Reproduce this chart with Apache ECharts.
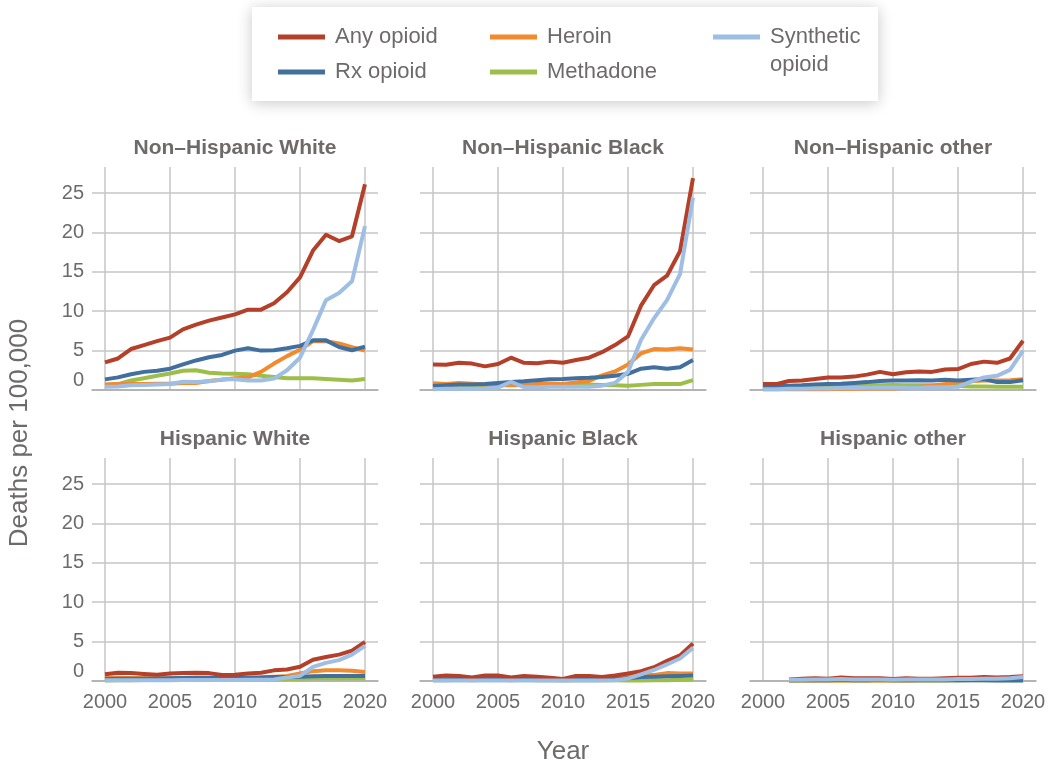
<!DOCTYPE html>
<html>
<head>
<meta charset="utf-8">
<script src="https://cdn.jsdelivr.net/npm/echarts@6/dist/echarts.min.js"></script>
<style>
  html, body { margin: 0; padding: 0; background: #ffffff; }
  #chart { width: 1053px; height: 768px; }
</style>
</head>
<body>
<div id="chart"></div>
<script>
// Years on the x axis
const years = [2000, 2001, 2002, 2003, 2004, 2005, 2006, 2007, 2008, 2009, 2010,
               2011, 2012, 2013, 2014, 2015, 2016, 2017, 2018, 2019, 2020];
const xTickValues = [2000, 2005, 2010, 2015, 2020];
const yTickValues = [0, 5, 10, 15, 20, 25];

const panelTitles = ['Non\u2013Hispanic White', 'Non\u2013Hispanic Black', 'Non\u2013Hispanic other',
                     'Hispanic White', 'Hispanic Black', 'Hispanic other'];
const seriesNames = ['Any opioid', 'Rx opioid', 'Heroin', 'Methadone', 'Synthetic opioid'];

// Deaths per 100,000 — Non-Hispanic White
const nhwAny       = [3.5, 4.0, 5.2, 5.7, 6.2, 6.65, 7.7, 8.3, 8.8, 9.2, 9.6, 10.2, 10.2, 11.0, 12.4, 14.3, 17.7, 19.7, 18.9, 19.5, 26.1];
const nhwRx        = [1.35, 1.6, 2.0, 2.3, 2.45, 2.7, 3.25, 3.75, 4.15, 4.45, 5.0, 5.3, 5.0, 5.05, 5.3, 5.6, 6.3, 6.3, 5.45, 5.05, 5.5];
const nhwHeroin    = [0.7, 0.75, 0.75, 0.75, 0.8, 0.8, 0.9, 0.9, 1.15, 1.3, 1.5, 1.6, 2.3, 3.35, 4.3, 5.1, 6.2, 6.2, 5.9, 5.45, 5.0];
const nhwMethadone = [0.65, 0.75, 1.2, 1.5, 1.8, 2.1, 2.45, 2.5, 2.2, 2.1, 2.05, 2.0, 1.8, 1.65, 1.5, 1.5, 1.5, 1.4, 1.3, 1.2, 1.4];
const nhwSynthetic = [0.4, 0.45, 0.6, 0.65, 0.7, 0.75, 1.05, 1.0, 1.1, 1.35, 1.35, 1.2, 1.2, 1.45, 2.5, 4.1, 7.6, 11.4, 12.3, 13.8, 20.8];

// Non-Hispanic Black
const nhbAny       = [3.25, 3.2, 3.45, 3.35, 3.0, 3.3, 4.1, 3.45, 3.4, 3.6, 3.45, 3.8, 4.1, 4.8, 5.7, 6.8, 10.7, 13.3, 14.5, 17.6, 26.9];
const nhbRx        = [0.5, 0.6, 0.7, 0.7, 0.75, 0.9, 1.0, 1.1, 1.25, 1.35, 1.4, 1.5, 1.55, 1.65, 1.8, 2.05, 2.7, 2.9, 2.7, 2.9, 3.8];
const nhbHeroin    = [0.85, 0.75, 0.9, 0.8, 0.7, 0.7, 0.65, 0.65, 0.75, 0.8, 0.75, 0.95, 1.15, 1.85, 2.35, 3.25, 4.65, 5.2, 5.15, 5.3, 5.15];
const nhbMethadone = [0.4, 0.45, 0.5, 0.5, 0.55, 0.6, 0.6, 0.65, 0.65, 0.7, 0.7, 0.7, 0.7, 0.65, 0.6, 0.55, 0.65, 0.75, 0.75, 0.75, 1.25];
const nhbSynthetic = [0.1, 0.15, 0.15, 0.15, 0.2, 0.3, 1.05, 0.35, 0.35, 0.4, 0.4, 0.4, 0.4, 0.55, 0.9, 2.3, 6.35, 9.1, 11.4, 14.7, 24.4];

// Non-Hispanic other
const nhoAny       = [0.75, 0.75, 1.15, 1.2, 1.4, 1.6, 1.6, 1.7, 1.95, 2.3, 2.0, 2.25, 2.35, 2.3, 2.6, 2.65, 3.3, 3.6, 3.45, 4.0, 6.25];
const nhoRx        = [0.45, 0.5, 0.55, 0.6, 0.7, 0.75, 0.8, 0.9, 1.0, 1.15, 1.2, 1.2, 1.25, 1.2, 1.3, 1.2, 1.3, 1.4, 1.0, 1.0, 1.25];
const nhoHeroin    = [0.1, 0.1, 0.1, 0.1, 0.1, 0.1, 0.15, 0.15, 0.2, 0.2, 0.2, 0.3, 0.4, 0.55, 0.75, 1.0, 1.1, 1.2, 1.2, 1.25, 1.35];
const nhoMethadone = [0.2, 0.25, 0.3, 0.35, 0.4, 0.45, 0.5, 0.55, 0.6, 0.6, 0.65, 0.6, 0.6, 0.6, 0.55, 0.5, 0.45, 0.45, 0.4, 0.4, 0.4];
const nhoSynthetic = [0.1, 0.1, 0.15, 0.15, 0.2, 0.2, 0.25, 0.25, 0.3, 0.3, 0.3, 0.3, 0.3, 0.35, 0.35, 0.4, 1.05, 1.6, 1.8, 2.55, 5.0];

// Hispanic White
const hwAny       = [0.85, 1.05, 1.0, 0.9, 0.8, 0.95, 1.0, 1.05, 1.0, 0.75, 0.8, 0.95, 1.05, 1.35, 1.45, 1.8, 2.7, 3.05, 3.35, 3.85, 4.95];
const hwRx        = [0.25, 0.28, 0.3, 0.3, 0.32, 0.35, 0.38, 0.4, 0.42, 0.4, 0.4, 0.42, 0.45, 0.5, 0.5, 0.55, 0.6, 0.65, 0.65, 0.65, 0.65];
const hwHeroin    = [0.4, 0.4, 0.38, 0.38, 0.36, 0.36, 0.38, 0.4, 0.4, 0.38, 0.4, 0.42, 0.45, 0.55, 0.65, 0.95, 1.25, 1.35, 1.35, 1.3, 1.15];
const hwMethadone = [0.05, 0.08, 0.1, 0.12, 0.15, 0.18, 0.2, 0.22, 0.22, 0.2, 0.2, 0.2, 0.2, 0.22, 0.25, 0.3, 0.35, 0.35, 0.35, 0.35, 0.35];
const hwSynthetic = [0.1, 0.1, 0.1, 0.1, 0.1, 0.1, 0.12, 0.12, 0.12, 0.12, 0.12, 0.15, 0.15, 0.2, 0.45, 0.65, 1.8, 2.3, 2.65, 3.35, 4.45];

// Hispanic Black
const hbAny       = [0.55, 0.7, 0.65, 0.45, 0.7, 0.7, 0.45, 0.65, 0.55, 0.4, 0.25, 0.65, 0.65, 0.5, 0.7, 0.95, 1.25, 1.75, 2.55, 3.25, 4.75];
const hbRx        = [0.2, 0.2, 0.25, 0.2, 0.25, 0.25, 0.2, 0.25, 0.25, 0.2, 0.15, 0.25, 0.25, 0.2, 0.3, 0.35, 0.5, 0.55, 0.6, 0.65, 0.7];
const hbHeroin    = [0.2, 0.25, 0.3, 0.2, 0.3, 0.35, 0.25, 0.3, 0.3, 0.2, 0.15, 0.25, 0.3, 0.25, 0.4, 0.6, 0.8, 0.75, 1.0, 0.95, 0.95];
const hbMethadone = [0.1, 0.1, 0.15, 0.1, 0.15, 0.15, 0.1, 0.15, 0.1, 0.1, 0.05, 0.1, 0.1, 0.1, 0.1, 0.05, 0.05, 0.1, 0.1, 0.15, 0.2];
const hbSynthetic = [0.05, 0.05, 0.05, 0.05, 0.05, 0.05, 0.05, 0.05, 0.05, 0.05, 0.05, 0.05, 0.05, 0.05, 0.1, 0.3, 0.85, 1.4, 2.1, 2.85, 4.2];

// Hispanic other (no estimates before 2002)
const hoAny       = [null, null, 0.2, 0.3, 0.35, 0.3, 0.45, 0.35, 0.35, 0.35, 0.25, 0.35, 0.3, 0.3, 0.35, 0.4, 0.4, 0.5, 0.45, 0.5, 0.6];
const hoRx        = [null, null, 0.1, 0.1, 0.1, 0.1, 0.15, 0.1, 0.1, 0.15, 0.1, 0.1, 0.1, 0.1, 0.1, 0.1, 0.1, 0.1, 0.05, 0.05, 0.05];
const hoHeroin    = [null, null, 0.05, 0.05, 0.05, 0.05, 0.05, 0.05, 0.05, 0.05, 0.05, 0.05, 0.1, 0.1, 0.1, 0.15, 0.15, 0.2, 0.2, 0.2, 0.2];
const hoMethadone = [null, null, 0.05, 0.05, 0.05, 0.05, 0.05, 0.05, 0.05, 0.05, 0.05, 0.05, 0.05, 0.05, 0.05, 0.05, 0.1, 0.1, 0.1, 0.1, 0.1];
const hoSynthetic = [null, null, 0.15, 0.15, 0.2, 0.2, 0.25, 0.2, 0.2, 0.2, 0.15, 0.2, 0.2, 0.2, 0.2, 0.25, 0.25, 0.3, 0.3, 0.35, 0.5];

// Per panel, series in the order of seriesNames
const panelData = [
  [nhwAny, nhwRx, nhwHeroin, nhwMethadone, nhwSynthetic],
  [nhbAny, nhbRx, nhbHeroin, nhbMethadone, nhbSynthetic],
  [nhoAny, nhoRx, nhoHeroin, nhoMethadone, nhoSynthetic],
  [hwAny, hwRx, hwHeroin, hwMethadone, hwSynthetic],
  [hbAny, hbRx, hbHeroin, hbMethadone, hbSynthetic],
  [hoAny, hoRx, hoHeroin, hoMethadone, hoSynthetic]
];

const colors = {
  'Any opioid': '#b5402a',
  'Rx opioid': '#41709f',
  'Heroin': '#f28a2e',
  'Methadone': '#9dbf4a',
  'Synthetic opioid': '#9ebee3'
};
// drawing order (last on top)
const drawOrder = ['Methadone', 'Heroin', 'Rx opioid', 'Any opioid', 'Synthetic opioid'];

const FONT = '"Liberation Sans", Arial, Helvetica, sans-serif';
const TEXT = '#6e6a6a';
const GRIDLINE = '#c6c6c6';

const colLeft = [92, 420, 750];
const rowTop = [167, 458];
const panelW = 286, panelH = 223;

const grids = [], xAxes = [], yAxes = [], series = [], graphics = [];

// legend frame
graphics.push({
  type: 'rect', z: 0,
  shape: { x: 252, y: 7, width: 626, height: 94 },
  style: { fill: '#ffffff', shadowBlur: 14, shadowColor: 'rgba(0,0,0,0.22)', shadowOffsetY: 2 }
});

for (let p = 0; p < 6; p++) {
  const row = Math.floor(p / 3), col = p % 3;
  const left = colLeft[col], top = rowTop[row];
  grids.push({ left: left, top: top, width: panelW, height: panelH });

  xAxes.push({
    gridIndex: p, type: 'value', min: 1999, max: 2021,
    axisLine: { show: true, onZero: false, lineStyle: { color: '#a9a9a9', width: 1.5 } },
    axisTick: { show: false, customValues: xTickValues },
    axisLabel: { show: row === 1, customValues: xTickValues, color: TEXT, fontSize: 20, fontFamily: FONT, margin: 11,
                 formatter: v => String(v) },
    splitLine: { show: true, lineStyle: { color: GRIDLINE, width: 1.5 } }
  });
  yAxes.push({
    gridIndex: p, type: 'value', min: 0, max: 28.3,
    axisLine: { show: false },
    axisTick: { show: false, customValues: yTickValues },
    axisLabel: {
      show: col === 0, customValues: yTickValues, color: TEXT, fontSize: 20, fontFamily: FONT, margin: 8,
      formatter: v => (v === 0 ? '{z|0}' : String(v)),
      rich: { z: { fontSize: 20, fontFamily: FONT, color: TEXT, padding: [0, 0, 20, 0] } }
    },
    splitLine: { show: true, lineStyle: { color: GRIDLINE, width: 1.5 } }
  });

  graphics.push({
    type: 'text', x: left + panelW / 2, y: top - 19,
    style: { text: panelTitles[p], fill: TEXT, fontSize: 21, fontWeight: 'bold', fontFamily: FONT,
             align: 'center', verticalAlign: 'middle' }
  });

  drawOrder.forEach((name, k) => {
    const values = panelData[p][seriesNames.indexOf(name)];
    series.push({
      name: name, type: 'line', xAxisIndex: p, yAxisIndex: p,
      data: years.map((yr, i) => [yr, values[i]]),
      showSymbol: false, symbol: 'none', silent: true, z: 2 + k,
      connectNulls: false,
      lineStyle: { color: colors[name], width: 4, join: 'round' },
      itemStyle: { color: colors[name] }
    });
  });
}

// axis names
graphics.push({
  type: 'text', x: 20, y: 433, rotation: Math.PI / 2,
  style: { text: 'Deaths per 100,000', fill: TEXT, fontSize: 26, fontFamily: FONT, align: 'center', verticalAlign: 'middle' }
});
graphics.push({
  type: 'text', x: 563, y: 752,
  style: { text: 'Year', fill: TEXT, fontSize: 26, fontFamily: FONT, align: 'center', verticalAlign: 'middle' }
});

const legendText = { color: TEXT, fontSize: 22, fontFamily: FONT, lineHeight: 26, padding: [0, 0, 0, 5] };
const legends = [
  { data: ['Any opioid', 'Rx opioid'], left: 273, top: 19 },
  { data: ['Heroin', 'Methadone'], left: 485, top: 19 }
].map(l => ({
  data: l.data.map(n => ({ name: n, itemStyle: { color: colors[n] } })),
  left: l.left, top: l.top, orient: 'vertical', itemGap: 9,
  icon: 'rect', itemWidth: 47, itemHeight: 5, selectedMode: false, z: 5,
  textStyle: legendText
}));
legends.push({
  data: [{ name: 'Synthetic opioid', itemStyle: { color: colors['Synthetic opioid'] } }],
  left: 708, top: 18, orient: 'vertical', selectedMode: false, z: 5,
  // line at the top of a tall icon box so it sits beside the first text line
  icon: 'path://M0,0H47V5H0Z M0,32.95H0.05V33H0Z', itemWidth: 47, itemHeight: 33,
  formatter: () => 'Synthetic\nopioid',
  textStyle: { color: TEXT, fontSize: 22, fontFamily: FONT, lineHeight: 28, padding: [0, 0, 0, 5] }
});

const chart = echarts.init(document.getElementById('chart'), null, { renderer: 'canvas' });
chart.setOption({
  animation: false,
  backgroundColor: '#ffffff',
  grid: grids,
  xAxis: xAxes,
  yAxis: yAxes,
  legend: legends,
  graphic: graphics,
  series: series
});
</script>
</body>
</html>
